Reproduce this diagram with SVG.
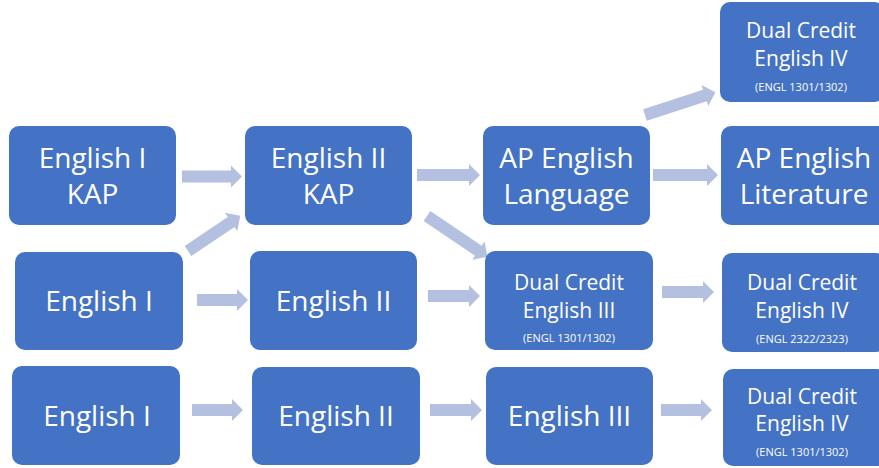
<svg xmlns="http://www.w3.org/2000/svg" width="879" height="468" viewBox="0 0 879 468">
<style>
.box{fill:#4472c4}
.arr{fill:#b3c0e0}
text{fill:#ffffff;font-family:"Open Sans","Liberation Sans",sans-serif;text-anchor:middle}
.big{font-size:28px}
.mid{font-size:21px}
.sm{font-size:11px}
</style>
<rect width="879" height="468" fill="#ffffff"/>
<g id="connectors">
<polygon class="arr" transform="translate(182,176.5)" points="0,-6 49,-6 49,-11 60,0 49,11 49,6 0,6"/>
<polygon class="arr" transform="translate(417,175)" points="0,-6 52,-6 52,-11 63,0 52,11 52,6 0,6"/>
<polygon class="arr" transform="translate(653,175)" points="0,-6 54,-6 54,-11 65,0 54,11 54,6 0,6"/>
<polygon class="arr" transform="translate(197,300)" points="0,-6 40,-6 40,-11 51,0 40,11 40,6 0,6"/>
<polygon class="arr" transform="translate(428,296)" points="0,-6 41,-6 41,-11 52,0 41,11 41,6 0,6"/>
<polygon class="arr" transform="translate(662,292)" points="0,-6 41,-6 41,-11 52,0 41,11 41,6 0,6"/>
<polygon class="arr" transform="translate(192,410)" points="0,-6 40,-6 40,-11 51,0 40,11 40,6 0,6"/>
<polygon class="arr" transform="translate(430,410)" points="0,-6 41,-6 41,-11 52,0 41,11 41,6 0,6"/>
<polygon class="arr" transform="translate(661,410)" points="0,-6 40,-6 40,-11 51,0 40,11 40,6 0,6"/>
<polygon class="arr" transform="translate(188,251) rotate(-34)" points="0,-6 52,-6 52,-11 63,0 52,11 52,6 0,6"/>
<polygon class="arr" transform="translate(427,216) rotate(34)" points="0,-6 62,-6 62,-11 73,0 62,11 62,6 0,6"/>
<polygon class="arr" transform="translate(645,115) rotate(-18)" points="0,-6 63,-6 63,-11 74,0 63,11 63,6 0,6"/>
</g>
<g id="eng1kap"><rect class="box" x="9" y="126" width="167" height="99" rx="10"/><text class="big" x="92.5" y="168">English I</text><text class="big" x="92.5" y="204">KAP</text></g>
<g id="eng2kap"><rect class="box" x="245" y="126" width="167" height="99" rx="10"/><text class="big" x="328.5" y="168">English II</text><text class="big" x="328.5" y="204">KAP</text></g>
<g id="aplang"><rect class="box" x="483" y="126" width="167" height="99" rx="10"/><text class="big" x="566.5" y="168">AP English</text><text class="big" x="566.5" y="204">Language</text></g>
<g id="aplit"><rect class="box" x="721" y="126" width="167" height="99" rx="10"/><text class="big" x="804" y="168">AP English</text><text class="big" x="804" y="204">Literature</text></g>
<g id="dc4top"><rect class="box" x="720" y="2" width="164" height="100" rx="10"/><text class="mid" x="801" y="38">Dual Credit</text><text class="mid" x="801" y="66">English IV</text><text class="sm" x="801" y="91">(ENGL 1301/1302)</text></g>
<g id="eng1b"><rect class="box" x="15" y="252" width="168" height="98" rx="10"/><text class="big" x="99" y="311">English I</text></g>
<g id="eng2b"><rect class="box" x="250" y="251" width="167" height="99" rx="10"/><text class="big" x="333.5" y="311">English II</text></g>
<g id="dc3"><rect class="box" x="485" y="251" width="168" height="99" rx="10"/><text class="mid" x="569" y="290">Dual Credit</text><text class="mid" x="569" y="318">English III</text><text class="sm" x="569" y="342">(ENGL 1301/1302)</text></g>
<g id="dc4mid"><rect class="box" x="722" y="253" width="164" height="99" rx="10"/><text class="mid" x="802" y="290">Dual Credit</text><text class="mid" x="802" y="318">English IV</text><text class="sm" x="802" y="343">(ENGL 2322/2323)</text></g>
<g id="eng1c"><rect class="box" x="12" y="366" width="168" height="99" rx="10"/><text class="big" x="97" y="426">English I</text></g>
<g id="eng2c"><rect class="box" x="252" y="367" width="168" height="98" rx="10"/><text class="big" x="336" y="426">English II</text></g>
<g id="eng3c"><rect class="box" x="486" y="367" width="167" height="98" rx="10"/><text class="big" x="569.5" y="426">English III</text></g>
<g id="dc4bot"><rect class="box" x="723" y="369" width="164" height="97" rx="10"/><text class="mid" x="802" y="404">Dual Credit</text><text class="mid" x="802" y="431">English IV</text><text class="sm" x="802" y="456">(ENGL 1301/1302)</text></g>
</svg>
